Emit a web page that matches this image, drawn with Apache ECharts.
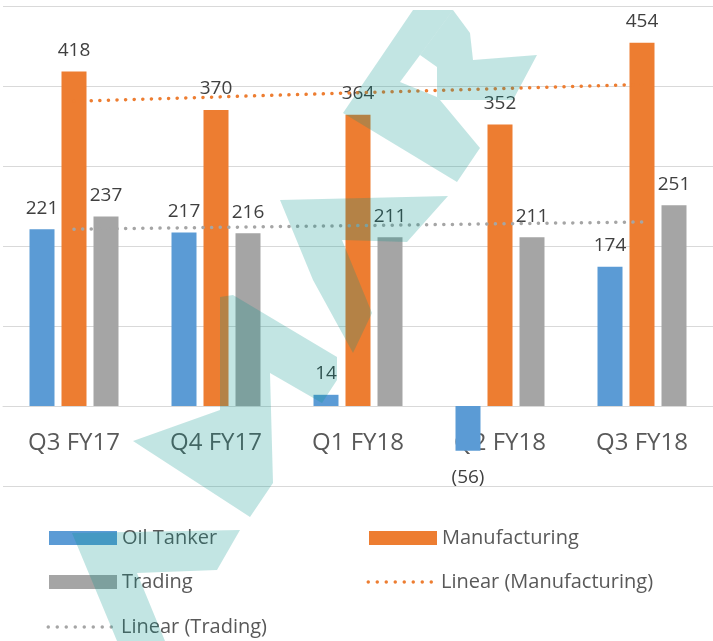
<!DOCTYPE html>
<html>
<head>
<meta charset="utf-8">
<script src="https://cdn.jsdelivr.net/npm/echarts@6/dist/echarts.min.js"></script>
<style>
html, body { margin: 0; padding: 0; background: #fff; }
#chart { width: 713px; height: 641px; }
</style>
</head>
<body>
<div id="chart"></div>
<script>
var categories = ['Q3 FY17', 'Q4 FY17', 'Q1 FY18', 'Q2 FY18', 'Q3 FY18']
var oilTanker = [221, 217, 14, -56, 174]
var manufacturing = [418, 370, 364, 352, 454]
var trading = [237, 216, 211, 211, 251]
// trend line ends (first and last quarter)
var manufacturingTrend = [381, 402]
var tradingTrend = [221, 230]

var FONT = '"Open Sans", "Noto Sans", sans-serif'
var WATERMARK = 'rgba(0, 145, 140, 0.24)'

// faint brush-stroke watermark drawn over the chart
var watermarkShapes = [
    [[220, 297], [233, 295], [337, 357], [337, 380], [322, 403], [270, 373], [273, 483], [250, 517], [133, 441], [220, 410]],
    [[280, 200], [448, 196], [407, 242], [342, 240], [372, 313], [353, 353], [313, 280]],
    [[72, 533], [240, 530], [217, 570], [137, 573], [165, 641], [117, 641]],
    [[343, 113], [413, 10], [453, 10], [420, 55], [400, 82], [437, 97], [440, 100], [480, 148], [457, 182]],
    [[453, 10], [470, 33], [473, 60], [537, 55], [513, 100], [440, 100], [437, 97], [437, 67], [420, 55]]
]

// row of 8 round dots for the trend-line legend keys
var dots = ''
for (var i = 0; i < 8; i++) {
    dots += 'M' + (i * 9) + ',1.75a1.75,1.75 0 1,0 3.5,0a1.75,1.75 0 1,0 -3.5,0Z'
}
var DOT_ICON = 'path://' + dots

function trendData(ends) {
    var arr = categories.map(function () { return null })
    arr[0] = ends[0]
    arr[arr.length - 1] = ends[1]
    return arr
}

function barLabel() {
    return {
        show: true,
        position: 'top',
        distance: 11,
        fontSize: 19,
        lineHeight: 20,
        color: '#404040',
        fontFamily: FONT,
        formatter: function (p) {
            return p.value < 0 ? '(' + Math.abs(p.value) + ')' : p.value
        }
    }
}

function barData(values) {
    return values.map(function (v) {
        if (v < 0) {
            return { value: v, label: { position: 'bottom', distance: 17 } }
        }
        return v
    })
}

function legendItem(name, left, top, isLine, color) {
    return {
        left: left,
        top: top,
        padding: 0,
        itemWidth: isLine ? 66.5 : 68,
        itemHeight: isLine ? 3.5 : 14,
        selectedMode: false,
        textStyle: {
            fontSize: 20,
            color: '#595959',
            fontFamily: FONT,
            padding: isLine ? [0, 0, 0, 3] : 0
        },
        data: [{
            name: name,
            icon: isLine ? DOT_ICON : 'rect',
            itemStyle: { color: color }
        }]
    }
}

var echart = echarts.init(document.getElementById('chart'))
var option = {
    animation: false,
    grid: {
        left: 3,
        right: 0,
        top: 6,
        bottom: 155
    },
    legend: [
        legendItem('Oil Tanker', 49, 528, false, '#5B9BD5'),
        legendItem('Manufacturing', 369, 528, false, '#ED7D31'),
        legendItem('Trading', 49, 572, false, '#A5A5A5'),
        legendItem('Linear (Manufacturing)', 366.5, 572, true, '#ED7D31'),
        legendItem('Linear (Trading)', 46.5, 617, true, '#A5A5A5')
    ],
    xAxis: {
        type: 'category',
        data: categories,
        axisLine: {
            onZero: true,
            lineStyle: { color: '#D9D9D9', width: 1 }
        },
        axisTick: { show: false },
        axisLabel: {
            fontSize: 24,
            color: '#595959',
            fontFamily: FONT,
            margin: -55
        }
    },
    yAxis: {
        type: 'value',
        min: -100,
        max: 500,
        interval: 100,
        axisLine: { show: false },
        axisTick: { show: false },
        axisLabel: { show: false },
        splitLine: {
            lineStyle: { color: '#D9D9D9', width: 1 }
        }
    },
    series: [
        {
            name: 'Oil Tanker',
            type: 'bar',
            barWidth: 25,
            barGap: '28%',
            itemStyle: { color: '#5B9BD5' },
            label: barLabel(),
            data: barData(oilTanker)
        },
        {
            name: 'Manufacturing',
            type: 'bar',
            barWidth: 25,
            barGap: '28%',
            itemStyle: { color: '#ED7D31' },
            label: barLabel(),
            data: barData(manufacturing)
        },
        {
            name: 'Trading',
            type: 'bar',
            barWidth: 25,
            barGap: '28%',
            itemStyle: { color: '#A5A5A5' },
            label: barLabel(),
            data: barData(trading)
        },
        {
            name: 'Linear (Manufacturing)',
            type: 'line',
            symbol: 'none',
            connectNulls: true,
            silent: true,
            itemStyle: { color: '#ED7D31' },
            lineStyle: { color: '#ED7D31', width: 3.5, type: [0.1, 8.5], cap: 'round' },
            data: trendData(manufacturingTrend)
        },
        {
            name: 'Linear (Trading)',
            type: 'line',
            symbol: 'none',
            connectNulls: true,
            silent: true,
            itemStyle: { color: '#A5A5A5' },
            lineStyle: { color: '#A5A5A5', width: 3.5, type: [0.1, 8.5], cap: 'round' },
            data: trendData(tradingTrend)
        }
    ],
    graphic: watermarkShapes.map(function (pts) {
        return {
            type: 'polygon',
            z: 100,
            silent: true,
            shape: { points: pts },
            style: { fill: WATERMARK }
        }
    })
}
echart.setOption(option)
</script>
</body>
</html>
